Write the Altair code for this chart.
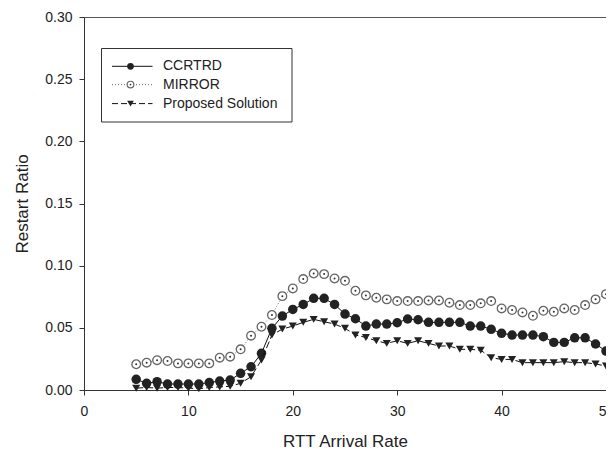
import altair as alt
import pandas as pd

x_vals = [5, 6, 7, 8, 9, 10, 11, 12, 13, 14, 15, 16, 17, 18, 19, 20, 21, 22, 23, 24,
          25, 26, 27, 28, 29, 30, 31, 32, 33, 34, 35, 36, 37, 38, 39, 40, 41, 42, 43, 44,
          45, 46, 47, 48, 49, 50]

ccrtrd = [0.0086, 0.0054, 0.0067, 0.0048, 0.0048, 0.0048, 0.0048, 0.0060, 0.0072, 0.0080,
          0.0134, 0.0187, 0.0295, 0.0496, 0.0595, 0.0648, 0.0688, 0.0737, 0.0737, 0.0688,
          0.0611, 0.0573, 0.0514, 0.0530, 0.0530, 0.0541, 0.0571, 0.0565, 0.0544, 0.0544,
          0.0544, 0.0544, 0.0514, 0.0514, 0.0488, 0.0456, 0.0442, 0.0442, 0.0442, 0.0429,
          0.0383, 0.0383, 0.0420, 0.0420, 0.0370, 0.0313]

mirror = [0.0207, 0.0220, 0.0240, 0.0233, 0.0214, 0.0214, 0.0214, 0.0214, 0.0260, 0.0268,
          0.0327, 0.0437, 0.0509, 0.0603, 0.0755, 0.0817, 0.0892, 0.0937, 0.0932, 0.0897,
          0.0878, 0.0798, 0.0761, 0.0742, 0.0729, 0.0715, 0.0715, 0.0715, 0.0720, 0.0720,
          0.0702, 0.0683, 0.0683, 0.0697, 0.0715, 0.0656, 0.0643, 0.0624, 0.0597, 0.0637,
          0.0629, 0.0656, 0.0643, 0.0683, 0.0729, 0.0771]

proposed = [0.0015, 0.0020, 0.0015, 0.0020, 0.0020, 0.0015, 0.0010, 0.0020, 0.0025, 0.0030,
            0.0054, 0.0107, 0.0241, 0.0442, 0.0490, 0.0514, 0.0544, 0.0568, 0.0549, 0.0530,
            0.0496, 0.0442, 0.0423, 0.0396, 0.0375, 0.0396, 0.0375, 0.0396, 0.0375, 0.0354,
            0.0354, 0.0327, 0.0327, 0.0320, 0.0260, 0.0246, 0.0246, 0.0220, 0.0220, 0.0220,
            0.0220, 0.0228, 0.0220, 0.0220, 0.0209, 0.0193]

series_names = ["CCRTRD", "MIRROR", "Proposed Solution"]
x_ticks = [0, 10, 20, 30, 40, 50]
y_ticks = [0.0, 0.05, 0.10, 0.15, 0.20, 0.25, 0.30]

FONT = "Liberation Sans"
W, H = 522, 373

df_c = pd.DataFrame({"x": x_vals, "y": ccrtrd})
df_m = pd.DataFrame({"x": x_vals, "y": mirror})
df_p = pd.DataFrame({"x": x_vals, "y": proposed})

xs = alt.Scale(domain=[0, 50], nice=False)
ys = alt.Scale(domain=[0, 0.30], nice=False)

X = alt.X("x:Q", scale=xs, title="RTT Arrival Rate",
          axis=alt.Axis(values=x_ticks, format="d", labelFlush=False, grid=False,
                        labelPadding=9, titlePadding=15))
Y = alt.Y("y:Q", scale=ys, title="Restart Ratio",
          axis=alt.Axis(values=y_ticks, format=".2f", grid=False,
                        labelPadding=7, titlePadding=13))

def base(df):
    return alt.Chart(df).encode(x=X, y=Y)

line_c = base(df_c).mark_line(color="#111", strokeWidth=1)
pts_c = base(df_c).mark_point(shape="circle", filled=True, size=90, color="#222", opacity=1)

line_m = base(df_m).mark_line(color="#777", strokeWidth=1, strokeDash=[1, 2])
pts_m = base(df_m).mark_point(shape="circle", filled=True, size=75, fill="white",
                              stroke="#666", strokeWidth=1.3, opacity=1)
dot_m = base(df_m).mark_point(shape="circle", filled=True, size=4, color="#333", opacity=1)

line_p = base(df_p).mark_line(color="#111", strokeWidth=1, strokeDash=[7, 3])
pts_p = base(df_p).mark_point(shape="triangle-down", filled=True, size=65, color="#222", opacity=1)

# legend (decoration)
one = pd.DataFrame({"k": [0]})
leg_box = alt.Chart(one).mark_rect(fill="white", stroke="#333", strokeWidth=1).encode(
    x=alt.value(17.5), x2=alt.value(208), y=alt.value(31.5), y2=alt.value(105))
row_y = [49.3, 67.6, 86.6]
leg_layers = [leg_box]
styles = [
    dict(line=dict(color="#111", strokeWidth=1), pt=dict(shape="circle", filled=True, size=45, color="#222", opacity=1)),
    dict(line=dict(color="#777", strokeWidth=1, strokeDash=[1, 2]), pt=dict(shape="circle", filled=True, size=45, fill="white", stroke="#666", strokeWidth=1.2, opacity=1)),
    dict(line=dict(color="#111", strokeWidth=1, strokeDash=[6, 3]), pt=dict(shape="triangle-down", filled=True, size=45, color="#222", opacity=1)),
]
for name, yy, st in zip(series_names, row_y, styles):
    d = pd.DataFrame({"name": [name]})
    leg_layers.append(alt.Chart(d).mark_rule(**st["line"]).encode(
        x=alt.value(28), x2=alt.value(68.5), y=alt.value(yy)))
    leg_layers.append(alt.Chart(d).mark_point(**st["pt"]).encode(
        x=alt.value(46.5), y=alt.value(yy)))
    if name == "MIRROR":
        leg_layers.append(alt.Chart(d).mark_point(shape="circle", filled=True, size=3, color="#333", opacity=1).encode(
            x=alt.value(46.5), y=alt.value(yy)))
    leg_layers.append(alt.Chart(d).mark_text(align="left", baseline="middle", font=FONT,
                                            fontSize=14, color="#222").encode(
        x=alt.value(79), y=alt.value(yy), text="name:N"))

chart = alt.layer(
    line_m, pts_m, dot_m, line_c, pts_c, line_p, pts_p, *leg_layers
).properties(
    width=W, height=H,
    autosize=alt.AutoSizeParams(type="none"),
    padding={"left": 76, "top": 9, "right": 0, "bottom": 64},
).configure_view(
    stroke="#555", strokeWidth=1
).configure_axis(
    labelFont=FONT, titleFont=FONT, labelFontSize=14, titleFontSize=17,
    labelColor="#222", titleColor="#222", domainColor="#333", tickColor="#333",
    tickSize=5, titleFontWeight="normal",
)

chart.save("out.html", embed_options={"renderer": "svg", "actions": False})
